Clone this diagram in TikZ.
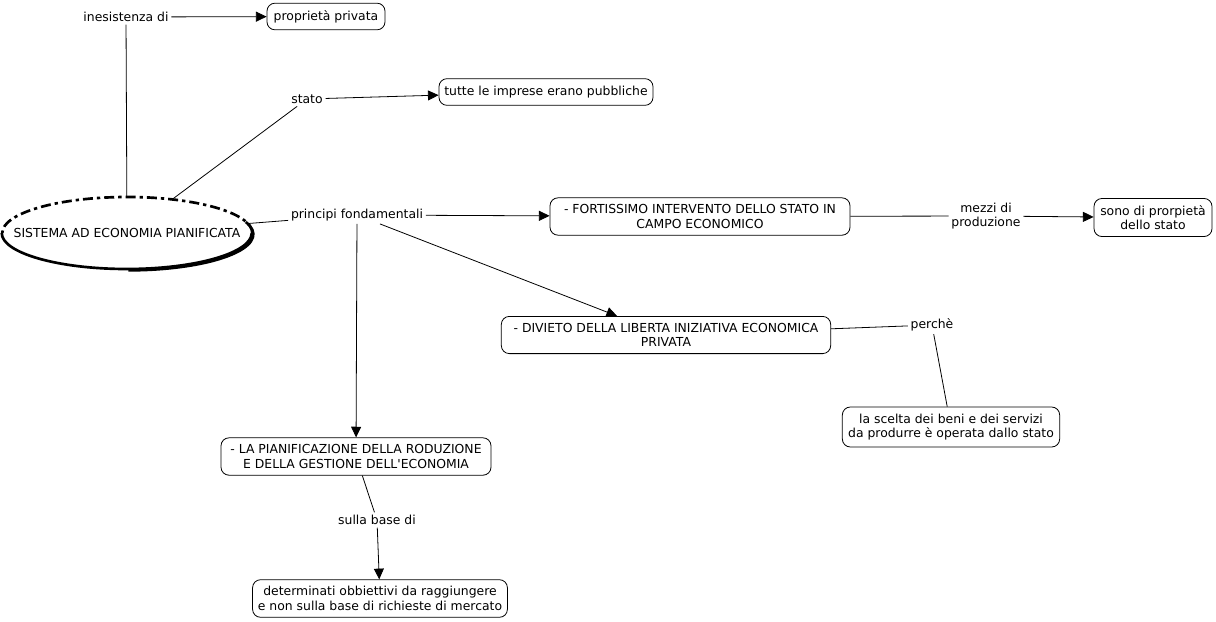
\documentclass[tikz,border=0pt]{standalone}
\usepackage{fontspec}
\setmainfont{DejaVu Sans}
\usetikzlibrary{arrows.meta,shapes.geometric}

\begin{document}
\begin{tikzpicture}[
    x=0.75pt, y=-0.75pt,
    every node/.style={font=\fontsize{9.3}{11}\selectfont},
    box/.style={draw, rounded corners=6pt, align=center, fill=white, inner xsep=4pt, inner ysep=5pt, minimum height=20pt, line width=0.6pt},
    tag/.style={align=center, inner sep=2pt},
    arrow/.style={-{Triangle[length=8pt, width=7.5pt]}, line width=0.6pt},
    link/.style={line width=0.6pt},
    ovaltop/.style={line width=2pt, dash pattern=on 7.5pt off 3pt on 2.5pt off 3pt},
    ovalbottom/.style={line width=2pt}
]
\useasboundingbox (0,0) rectangle (1216,621);
% central concept
\node[ellipse, minimum width=187.5pt, minimum height=54pt, inner sep=0pt] (sistema) at (127,233) {\makebox[0pt]{SISTEMA AD ECONOMIA PIANIFICATA}};
\draw[ovaltop] (sistema.east) arc[start angle=0, end angle=180, x radius=93.75pt, y radius=27pt];
\draw[ovalbottom] (sistema.west) arc[start angle=180, end angle=360, x radius=93.75pt, y radius=27pt];
\draw[line width=2pt] ([xshift=1pt, yshift=-0.8pt]sistema.south) arc[start angle=270, end angle=380, x radius=93.75pt, y radius=27pt];
% concepts
\node[box, minimum width=88.5pt] (proprieta) at (326,16.5) {proprietà privata};
\node[box, minimum width=160.5pt] (imprese) at (546,92) {tutte le imprese erano pubbliche};
\node[box, minimum width=225pt] (intervento) at (700,216.5) {- FORTISSIMO INTERVENTO DELLO STATO IN\\CAMPO ECONOMICO};
\node[box, minimum width=88.5pt] (proprieta2) at (1153,217.5) {sono di prorpietà\\dello stato};
\node[box, minimum width=247pt] (divieto) at (666,335) {- DIVIETO DELLA LIBERTA INIZIATIVA ECONOMICA\\PRIVATA};
\node[box, minimum width=163pt] (scelta) at (951,427) {la scelta dei beni e dei servizi\\da produrre è operata dallo stato};
\node[box, minimum width=202.5pt] (pianif) at (356,456.5) {- LA PIANIFICAZIONE DELLA RODUZIONE\\E DELLA GESTIONE DELL\textquotesingle ECONOMIA};
\node[box, minimum width=190.5pt] (obiettivi) at (380,598.5) {determinati obbiettivi da raggiungere\\e non sulla base di richieste di mercato};
% linking phrases
\node[tag] (inesistenza) at (126,17) {inesistenza di};
\node[tag] (stato) at (307,99) {stato};
\node[tag] (principi) at (357,215) {principi fondamentali};
\node[tag] (mezzi) at (986,216) {mezzi di\\produzione};
\node[tag] (perche) at (932,325) {perchè};
\node[tag] (base) at (377,520) {sulla base di};
% connectors
\draw[link] (sistema) -- (inesistenza);
\draw[arrow] (inesistenza) -- (proprieta);
\draw[link] (sistema) -- (stato);
\draw[arrow] (stato) -- (imprese);
\draw[link] (sistema) -- (principi);
\draw[arrow] (principi) -- (intervento);
\draw[arrow] (principi) -- (divieto);
\draw[arrow] (principi) -- (pianif);
\draw[link] (intervento) -- (mezzi);
\draw[arrow] (mezzi) -- (proprieta2);
\draw[link] (divieto) -- (perche);
\draw[link] (perche) -- (scelta);
\draw[link] (pianif) -- (base);
\draw[arrow] (base) -- (obiettivi);
\end{tikzpicture}
\end{document}
